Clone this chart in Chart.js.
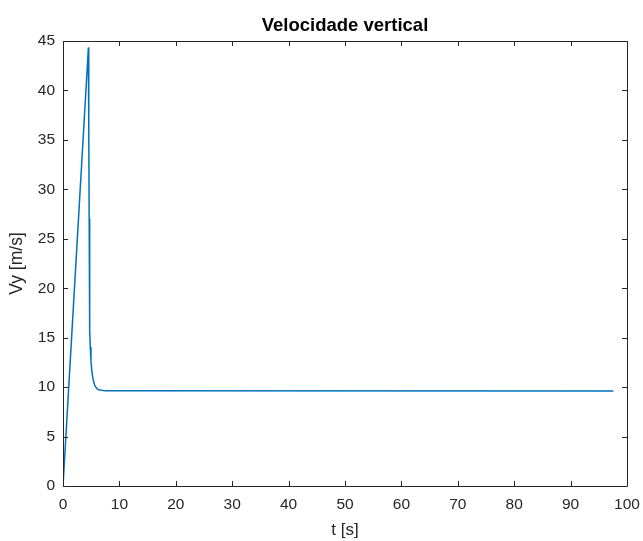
<!DOCTYPE html>
<html>
<head>
<meta charset="utf-8">
<script src="https://cdn.jsdelivr.net/npm/chart.js@4/dist/chart.umd.min.js"></script>
<style>
  html, body { margin: 0; padding: 0; background: #ffffff; }
  #wrap { width: 643px; height: 541px; position: relative; }
</style>
</head>
<body>
<div id="wrap"><canvas id="c" width="643" height="541"></canvas></div>
<script>
const titleText = "Velocidade vertical";
const xLabel = "t [s]";
const yLabel = "Vy [m/s]";
const timeS = [0, 4.5, 4.57, 4.64, 4.7, 4.76, 4.84, 4.96, 5.1, 5.3, 5.6, 6.0, 6.5, 7.5, 97.5];
const vyMs  = [0, 44.3, 36, 27, 20, 15.8, 14, 12.6, 11.7, 10.9, 10.2, 9.85, 9.7, 9.62, 9.6];
const xTicks = [0, 10, 20, 30, 40, 50, 60, 70, 80, 90, 100];
const yTicks = [0, 5, 10, 15, 20, 25, 30, 35, 40, 45];

const points = timeS.map((t, i) => ({ x: t, y: vyMs[i] }));
const axisColor = '#262626';

const boxPlugin = {
  id: 'matlabBox',
  afterDraw(chart) {
    const { ctx, chartArea: a, scales } = chart;
    ctx.save();
    ctx.strokeStyle = axisColor;
    ctx.lineWidth = 1;
    ctx.beginPath();
    ctx.rect(Math.round(a.left) + 0.5, Math.round(a.top) + 0.5,
             Math.round(a.right) - Math.round(a.left), Math.round(a.bottom) - Math.round(a.top));
    const L = 5;
    xTicks.forEach(v => {
      const px = Math.round(scales.x.getPixelForValue(v)) + 0.5;
      ctx.moveTo(px, a.bottom); ctx.lineTo(px, a.bottom - L);
      ctx.moveTo(px, a.top); ctx.lineTo(px, a.top + L);
    });
    yTicks.forEach(v => {
      const py = Math.round(scales.y.getPixelForValue(v)) + 0.5;
      ctx.moveTo(a.left, py); ctx.lineTo(a.left + L, py);
      ctx.moveTo(a.right, py); ctx.lineTo(a.right - L, py);
    });
    ctx.stroke();
    ctx.restore();
  }
};

new Chart(document.getElementById('c'), {
  type: 'line',
  data: {
    datasets: [{
      data: points,
      borderColor: '#0072BD',
      borderWidth: 1.5,
      borderJoinStyle: 'round',
      borderCapStyle: 'round',
      pointRadius: 0,
      fill: false,
      tension: 0
    }]
  },
  options: {
    responsive: false,
    animation: false,
    layout: { padding: { left: 0, right: 16, top: 0, bottom: 0 } },
    plugins: {
      legend: { display: false },
      tooltip: { enabled: false },
      title: {
        display: true,
        text: titleText,
        fullSize: false,
        color: '#000000',
        font: { family: 'Liberation Sans, Arial, sans-serif', size: 18.5, weight: 'bold', lineHeight: 1.2 },
        padding: { top: 15, bottom: 3.8 }
      }
    },
    scales: {
      x: {
        type: 'linear',
        min: 0, max: 100,
        afterFit(s) { s.height = 55; s.paddingLeft = 0; s.paddingRight = 0; },
        afterBuildTicks(s) { s.ticks = xTicks.map(v => ({ value: v })); },
        grid: { display: false, drawTicks: false },
        border: { display: false },
        ticks: {
          color: axisColor,
          font: { family: 'Liberation Sans, Arial, sans-serif', size: 15.5 },
          padding: 9,
          maxRotation: 0,
          autoSkip: false
        },
        title: {
          display: true, text: xLabel, color: axisColor,
          font: { family: 'Liberation Sans, Arial, sans-serif', size: 17, lineHeight: 1.2 },
          padding: { top: 0, bottom: 0 }
        }
      },
      y: {
        type: 'linear',
        min: 0, max: 45,
        afterFit(s) { s.width = 63; s.paddingTop = 0; s.paddingBottom = 0; },
        afterBuildTicks(s) { s.ticks = yTicks.map(v => ({ value: v })); },
        grid: { display: false, drawTicks: false },
        border: { display: false },
        ticks: {
          color: axisColor,
          font: { family: 'Liberation Sans, Arial, sans-serif', size: 15.5 },
          padding: 8,
          autoSkip: false
        },
        title: {
          display: true, text: yLabel, color: axisColor,
          font: { family: 'Liberation Sans, Arial, sans-serif', size: 17.5, lineHeight: 1.2 },
          padding: { top: 7, bottom: 0 }
        }
      }
    }
  },
  plugins: [boxPlugin]
});
</script>
</body>
</html>
